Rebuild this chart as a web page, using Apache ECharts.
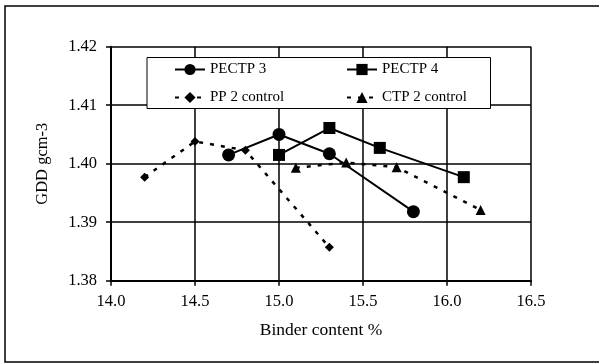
<!DOCTYPE html>
<html>
<head>
<meta charset="utf-8">
<script src="https://cdn.jsdelivr.net/npm/echarts@6/dist/echarts.min.js"></script>
<style>html,body{margin:0;padding:0;background:#fff}#c{width:599px;height:363px}</style>
</head>
<body>
<div id="c"></div>
<script>
var pectp3X = [14.7, 15.0, 15.3, 15.8];
var pectp3Y = [1.4015, 1.4050, 1.4017, 1.3918];
var pectp4X = [15.0, 15.3, 15.6, 16.1];
var pectp4Y = [1.4015, 1.4061, 1.4027, 1.3977];
var pp2X = [14.2, 14.5, 14.8, 15.3];
var pp2Y = [1.3977, 1.4038, 1.4023, 1.3857];
var ctp2X = [15.1, 15.4, 15.7, 16.2];
var ctp2Y = [1.3993, 1.4002, 1.3994, 1.3921];
var seriesNames = ['PECTP 3', 'PECTP 4', 'PP 2 control', 'CTP 2 control'];
var xTicks = {min: 14.0, max: 16.5, step: 0.5};
var yTicks = {min: 1.38, max: 1.42, step: 0.01};

function pairs(xs, ys){ return xs.map(function(x,i){ return [x, ys[i]]; }); }
var font = '"Liberation Serif", "Times New Roman", serif';
var chart = echarts.init(document.getElementById('c'), null, {renderer:'canvas'});
function mk(name, xs, ys, symbol, size, dashed){
  return {
    name: name, type: 'line', data: pairs(xs, ys),
    symbol: symbol, symbolSize: size,
    itemStyle: {color: '#000'},
    lineStyle: {color: '#000', width: dashed ? 2.5 : 2, type: dashed ? [4, 7] : 'solid'},
    animation: false
  };
}
chart.setOption({
  backgroundColor: '#fff',
  animation: false,
  graphic: [
    {type:'rect', shape:{x:5, y:6, width:600, height:356}, style:{fill:'none', stroke:'#000', lineWidth:1.5}, z:-1},
    {type:'rect', shape:{x:147, y:57.5, width:343.5, height:51}, style:{fill:'#fff', stroke:'#000', lineWidth:1}, z:5}
  ],
  grid: {left:111, right:68, top:46.7, bottom:82.3},
  legend: [
    {data:[seriesNames[0], seriesNames[2]], orient:'vertical', left:174, top:62, padding:0, itemWidth:30, itemHeight:14, itemGap:13,
     textStyle:{fontFamily:font, fontSize:15, color:'#000'}, z:10},
    {data:[seriesNames[1], seriesNames[3]], orient:'vertical', left:346, top:62, padding:0, itemWidth:30, itemHeight:14, itemGap:13,
     textStyle:{fontFamily:font, fontSize:15, color:'#000'}, z:10}
  ],
  xAxis: {
    type:'value', min:xTicks.min, max:xTicks.max, interval:xTicks.step,
    name:'Binder content %', nameLocation:'middle', nameGap:41,
    nameTextStyle:{fontFamily:font, fontSize:17.5, color:'#000'},
    axisLine:{lineStyle:{color:'#000', width:2}},
    axisTick:{show:true, length:5, lineStyle:{color:'#000', width:1.5}},
    axisLabel:{margin:12, fontFamily:font, fontSize:16.5, color:'#000', formatter:function(v){return v.toFixed(1);}},
    splitLine:{show:true, lineStyle:{color:'#000', width:1.5}}
  },
  yAxis: {
    type:'value', min:yTicks.min, max:yTicks.max, interval:yTicks.step,
    name:'GDD gcm-3', nameLocation:'middle', nameGap:60,
    nameTextStyle:{fontFamily:font, fontSize:16.5, color:'#000'},
    axisLine:{lineStyle:{color:'#000', width:2}},
    axisTick:{show:true, length:5, lineStyle:{color:'#000', width:1.5}},
    axisLabel:{margin:14, fontFamily:font, fontSize:16.5, color:'#000', formatter:function(v){return v.toFixed(2);}},
    splitLine:{show:true, lineStyle:{color:'#000', width:1.5}}
  },
  series: [
    mk(seriesNames[0], pectp3X, pectp3Y, 'circle', 13, false),
    mk(seriesNames[1], pectp4X, pectp4Y, 'rect', 12, false),
    mk(seriesNames[2], pp2X, pp2Y, 'diamond', 9, true),
    mk(seriesNames[3], ctp2X, ctp2Y, 'triangle', 10, true)
  ]
});
</script>
</body>
</html>
